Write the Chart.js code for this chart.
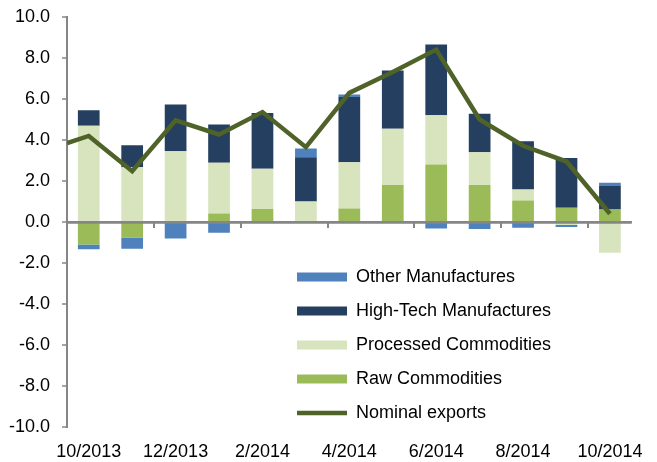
<!DOCTYPE html>
<html>
<head>
<meta charset="utf-8">
<script src="https://cdn.jsdelivr.net/npm/chart.js@4.4.1/dist/chart.umd.min.js"></script>
<style>
  html, body { margin: 0; padding: 0; background: #ffffff; }
  #exportsChart { display: block; }
</style>
</head>
<body>
<canvas id="exportsChart" width="657" height="462"></canvas>
<script>
const months = [
  "10/2013", "11/2013", "12/2013", "1/2014", "2/2014", "3/2014", "4/2014",
  "5/2014", "6/2014", "7/2014", "8/2014", "9/2014", "10/2014",
];

// contributions, percentage points
const rawCommodities = [-1.1, -0.76, 0, 0.41, 0.64, 0, 0.66, 1.8, 2.8, 1.8, 1.05, 0.7, 0.61];
const processedCommodities = [4.7, 2.67, 3.45, 2.48, 1.96, 1.0, 2.26, 2.75, 2.41, 1.6, 0.54, -0.15, -1.5];
const highTechManufactures = [0.75, 1.08, 2.28, 1.87, 2.72, 2.16, 3.18, 2.84, 3.45, 1.88, 2.35, 2.42, 1.17];
const otherManufactures = [-0.23, -0.55, -0.81, -0.53, 0, 0.42, 0.12, 0, -0.32, -0.34, -0.28, -0.09, 0.13];

// nominal exports, plus the value where the line leaves the left edge
const nominalStart = 3.85;
const nominalExports = [4.2, 2.48, 4.96, 4.27, 5.36, 3.65, 6.3, 7.32, 8.41, 5.0, 3.72, 2.95, 0.4];

const yTicks = { min: -10, max: 10, step: 2 };

const axisGrey = "#868686";
const clear = "rgba(0,0,0,0)";
Chart.defaults.font.family = "'Liberation Sans', Arial, sans-serif";
Chart.defaults.font.size = 18;
Chart.defaults.color = "#000000";

const lineData = [{ x: -0.5, y: nominalStart }].concat(
  nominalExports.map((v, i) => ({ x: i, y: v }))
);

function barSet(label, data, color) {
  return {
    type: "bar",
    label: label,
    data: data,
    backgroundColor: color,
    borderWidth: 0,
    pointStyle: "rect",
    xAxisID: "x",
    stack: "parts",
    grouped: false,
    categoryPercentage: 1,
    barPercentage: 0.5,
  };
}

// put the legend inside the plot, under the line
const legendPlacement = {
  id: "legendPlacement",
  afterLayout(chart) {
    const legend = chart.legend;
    const area = chart.chartArea;
    legend.left = area.left + 214;
    legend.right = legend.left + legend.width;
    legend.top = area.top + 235;
    legend.bottom = chart.height + 200;
  },
};

// horizontal axis line at zero, with a tick between every second month
function drawZeroAxis(chart) {
  const ctx = chart.ctx;
  const area = chart.chartArea;
  const xs = chart.scales.x;
  const y0 = Math.round(chart.scales.y.getPixelForValue(0));
  const half = (xs.getPixelForValue(1) - xs.getPixelForValue(0)) / 2;
  ctx.save();
  ctx.fillStyle = axisGrey;
  ctx.fillRect(area.left, y0 - 1, area.right - area.left, 2.5);
  for (let i = 1; i < months.length - 1; i += 2) {
    const x = Math.round(xs.getPixelForValue(i) + half);
    ctx.fillRect(x - 1, y0, 2, 6);
  }
  ctx.restore();
}

const zeroAxis = {
  id: "zeroAxis",
  afterDatasetsDraw(chart) {
    drawZeroAxis(chart);
  },
  afterDraw(chart) {
    drawZeroAxis(chart);
  },
};

new Chart(document.getElementById("exportsChart"), {
  type: "bar",
  data: {
    labels: months,
    datasets: [
      {
        type: "line",
        label: "Nominal exports",
        data: lineData,
        xAxisID: "xl",
        stack: "line",
        borderColor: "#4f6228",
        backgroundColor: "#4f6228",
        borderWidth: 4.5,
        pointRadius: 0,
        pointStyle: "line",
        tension: 0,
        fill: false,
      },
      barSet("Raw Commodities", rawCommodities, "#9bbb59"),
      barSet("Processed Commodities", processedCommodities, "#d7e4bd"),
      barSet("High-Tech Manufactures", highTechManufactures, "#243f60"),
      barSet("Other Manufactures", otherManufactures, "#4f81bd"),
    ],
  },
  options: {
    responsive: false,
    animation: false,
    layout: { padding: { left: 9, right: 14, top: 17, bottom: 0 } },
    scales: {
      x: {
        type: "category",
        offset: true,
        grid: { display: false, drawTicks: false },
        border: { display: false },
        ticks: {
          autoSkip: false,
          maxRotation: 0,
          padding: 14,
          callback: function (value, index) {
            return index % 2 === 0 ? this.getLabelForValue(value) : "";
          },
        },
        afterFit: (scale) => {
          scale.height = 35;
        },
      },
      xl: {
        type: "linear",
        display: false,
        offset: false,
        min: -0.5,
        max: months.length - 0.5,
      },
      y: {
        stacked: true,
        min: yTicks.min,
        max: yTicks.max,
        border: { color: axisGrey, width: 2 },
        grid: {
          drawOnChartArea: true,
          tickLength: 5,
          tickWidth: 1.5,
          tickColor: axisGrey,
          lineWidth: 2,
          color: (ctx) => (ctx.tick && ctx.tick.value === 0 ? axisGrey : clear),
        },
        ticks: {
          stepSize: yTicks.step,
          padding: 12,
          callback: (v) => v.toFixed(1),
        },
        afterFit: (scale) => {
          scale.width -= scale.options.ticks.padding;
          scale.paddingTop = 0;
          scale.paddingBottom = 0;
        },
      },
    },
    plugins: {
      title: { display: false },
      tooltip: { enabled: false },
      legend: {
        position: "chartArea",
        align: "start",
        reverse: true,
        labels: {
          usePointStyle: true,
          pointStyleWidth: 50,
          boxHeight: 9,
          padding: 16,
          color: "#000000",
          font: { size: 18 },
        },
      },
    },
  },
  plugins: [legendPlacement, zeroAxis],
});
</script>
</body>
</html>
